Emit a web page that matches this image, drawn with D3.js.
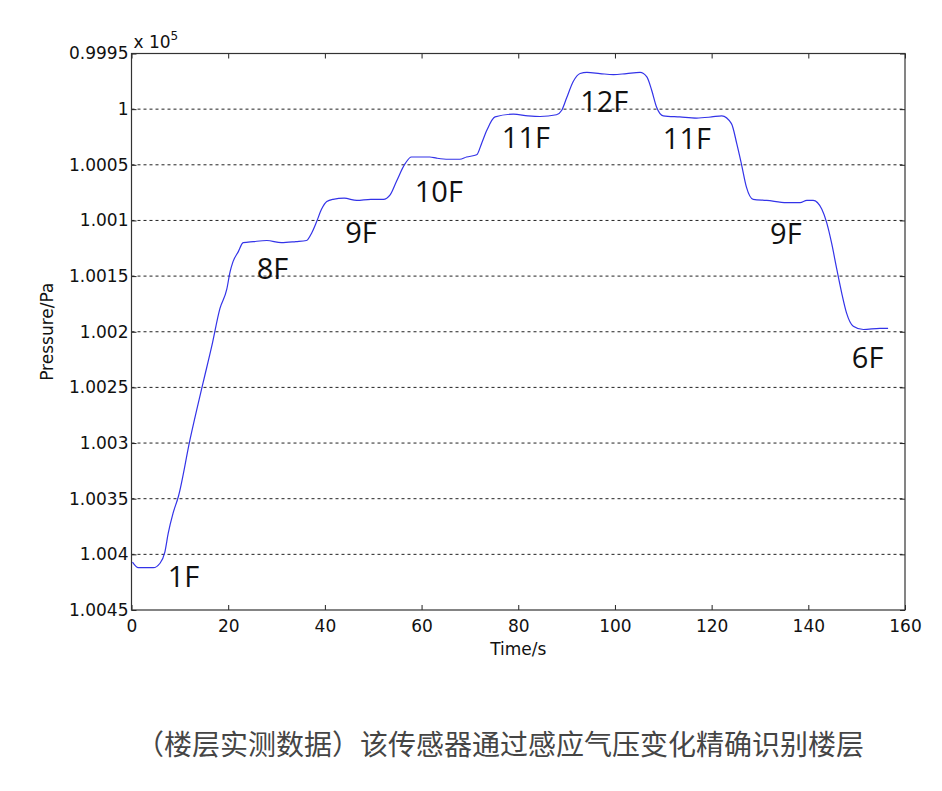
<!DOCTYPE html>
<html>
<head>
<meta charset="utf-8">
<script src="https://cdn.jsdelivr.net/npm/d3@7"></script>
<style>
    body { margin: 0; background: #fff; }
    svg text { font-family: "DejaVu Sans", "Liberation Sans", Arial, sans-serif; }
    .grid line { stroke: #222; stroke-dasharray: 3, 3; }
    .floor { font-family: "Open Sans", "Noto Sans", sans-serif; font-size: 29px; fill: #111; }
    .caption { font-family: "Noto Sans CJK SC", sans-serif; font-size: 28px; fill: #454545; }
</style>
</head>
<body>
<svg id="chart" width="942" height="791"></svg>
<script>
"use strict";

// time (s) and pressure (x 10^5 Pa)
var time = [0.2, 1.4, 4.5, 5.9, 6.9, 7.6, 8.6, 9.7, 12.1, 14.8, 16.6, 18.3, 19.7, 20.4, 21.0, 22.1, 23.1,
    25.2, 28.0, 31.0, 34.0, 36.2, 37.3, 38.3, 39.3, 40.4, 41.7, 44.0, 46.6, 49.5, 52.1, 53.5, 54.8, 56.6,
    57.9, 61.7, 63.1, 65.5, 67.9, 69.3, 71.4, 72.4, 73.5, 75.2, 79.0, 82.0, 84.5, 87.9, 89.0, 90.0, 91.4,
    92.8, 94.2, 96.9, 99.7, 102.4, 105.2, 106.6, 107.6, 108.6, 110.0, 113.4, 116.9, 120.0, 122.1, 124.1,
    125.2, 126.2, 127.2, 128.6, 131.4, 135.5, 138.3, 139.7, 141.0, 142.8, 143.8, 144.8, 145.9, 146.9,
    147.9, 149.3, 151.4, 154.8, 156.5];
var pressure = [1.00407, 1.00412, 1.00412, 1.00408, 1.00398, 1.00381, 1.00363, 1.00348, 1.00297, 1.00246,
    1.00213, 1.00179, 1.00162, 1.00146, 1.00137, 1.00128, 1.00120,
    1.00119, 1.00118, 1.00120, 1.00119, 1.00118, 1.00111, 1.00101, 1.00090, 1.00083, 1.00081, 1.00080,
    1.00082, 1.00081, 1.00081, 1.00077, 1.00065, 1.00049,
    1.00043, 1.00043, 1.00044, 1.00045, 1.00045, 1.00043, 1.00041, 1.00031, 1.00019, 1.00007, 1.000045,
    1.00006, 1.000066, 1.00005, 1.00001, 0.99990, 0.99975,
    0.99968, 0.99967, 0.99968, 0.99969, 0.99968, 0.99967, 0.99971, 0.99983, 0.99998, 1.00006, 1.00007,
    1.00008, 1.00007, 1.00006, 1.00013,
    1.00031, 1.00050, 1.00070, 1.00081, 1.00082, 1.00084, 1.00084, 1.00082, 1.00082, 1.00090, 1.00102,
    1.00120, 1.00144, 1.00165,
    1.00183, 1.00195, 1.00198, 1.00197, 1.00197];

var xTicks = [0, 20, 40, 60, 80, 100, 120, 140, 160];
var yTicks = [0.9995, 1, 1.0005, 1.001, 1.0015, 1.002, 1.0025, 1.003, 1.0035, 1.004, 1.0045];
var yTickLabels = ['0.9995', '1', '1.0005', '1.001', '1.0015', '1.002', '1.0025', '1.003', '1.0035', '1.004', '1.0045'];

// floor annotations: text, time, pressure at text baseline
var floorNames = ['1F', '8F', '9F', '10F', '11F', '12F', '11F', '9F', '6F'];
var floorTime = [7.5, 25.9, 44.2, 58.6, 76.6, 92.8, 109.9, 132.1, 149.0];
var floorPressure = [1.00429, 1.00153, 1.00120, 1.00083, 1.00035, 1.00003, 1.00036, 1.00121, 1.00233];

var caption = '（楼层实测数据）该传感器通过感应气压变化精确识别楼层';

var svg = d3.select('#chart');
var margin = { left: 131.5, right: 37, top: 53.5, bottom: 181 };
var width = 942 - margin.left - margin.right;
var height = 791 - margin.top - margin.bottom;

var x = d3.scaleLinear().domain([0, 160]).range([0, width]);
var y = d3.scaleLinear().domain([0.9995, 1.0045]).range([0, height]);

var g = svg.append('g').attr('transform', 'translate(' + margin.left + ',' + margin.top + ')');

// dashed horizontal grid
g.append('g').attr('class', 'grid')
    .selectAll('line')
    .data(yTicks.slice(1, -1))
    .enter().append('line')
    .attr('x1', 0).attr('x2', width)
    .attr('y1', function (d) { return y(d); })
    .attr('y2', function (d) { return y(d); });

// axes, matlab style ticks pointing inwards
function styleAxis(sel) {
    sel.select('.domain').remove();
    sel.selectAll('.tick line').attr('stroke', '#222');
    sel.selectAll('.tick text').attr('fill', '#111').style('font-size', '17px');
}
var yFmt = function (d, i) { return yTickLabels[i]; };
g.append('g').call(d3.axisLeft(y).tickValues(yTicks).tickFormat(yFmt).tickSizeInner(-5).tickPadding(3))
    .call(styleAxis);
g.append('g').attr('transform', 'translate(' + width + ',0)')
    .call(d3.axisRight(y).tickValues(yTicks).tickFormat('').tickSizeInner(-5))
    .call(styleAxis);
g.append('g').attr('transform', 'translate(0,' + height + ')')
    .call(d3.axisBottom(x).tickValues(xTicks).tickFormat(d3.format('d')).tickSizeInner(-5).tickPadding(10))
    .call(styleAxis);
g.append('g')
    .call(d3.axisTop(x).tickValues(xTicks).tickFormat('').tickSizeInner(-5))
    .call(styleAxis);

g.append('rect').attr('width', width).attr('height', height)
    .attr('fill', 'none').attr('stroke', '#333').attr('stroke-width', 1.2);

// pressure curve
var series = d3.zip(time, pressure);
var line = d3.line()
    .x(function (d) { return x(d[0]); })
    .y(function (d) { return y(d[1]); })
    .curve(d3.curveMonotoneX);
g.append('path').datum(series)
    .attr('fill', 'none').attr('stroke', '#3333e8').attr('stroke-width', 1.2)
    .attr('d', line);

g.selectAll('.floor')
    .data(floorNames)
    .enter().append('text')
    .attr('class', 'floor')
    .attr('x', function (d, i) { return x(floorTime[i]); })
    .attr('y', function (d, i) { return y(floorPressure[i]); })
    .text(function (d) { return d; });

// exponent and axis titles
var expo = g.append('text').attr('x', 2).attr('y', -6).attr('fill', '#111').style('font-size', '17px');
expo.append('tspan').text('x 10');
expo.append('tspan').attr('dy', -8).style('font-size', '12px').text('5');

g.append('text').attr('x', width / 2).attr('y', height + 45)
    .attr('text-anchor', 'middle').attr('fill', '#111').style('font-size', '17px')
    .text('Time/s');
g.append('text')
    .attr('transform', 'translate(' + (-79) + ',' + height / 2 + ') rotate(-90)')
    .attr('text-anchor', 'middle').attr('fill', '#111').style('font-size', '17px')
    .text('Pressure/Pa');

svg.append('text').attr('class', 'caption')
    .attr('x', 500).attr('y', 755).attr('text-anchor', 'middle')
    .text(caption);
</script>
</body>
</html>
